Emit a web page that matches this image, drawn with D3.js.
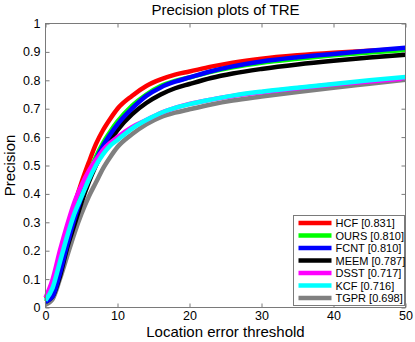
<!DOCTYPE html>
<html>
<head>
<meta charset="utf-8">
<script src="https://cdn.jsdelivr.net/npm/d3@7"></script>
<style>
  body { margin: 0; background: #fff; }
  text { font-family: "Liberation Sans", Arial, sans-serif; fill: #000; }
</style>
</head>
<body>
<svg id="chart" width="415" height="342"></svg>
<script>
var thresholds = [0,1,2,3,4,5,6,7,8,9,10,12,14,16,18,20,23,26,30,35,40,45,50];

var hcf  = [0.03,0.07,0.17,0.27,0.36,0.44,0.51,0.575,0.625,0.665,0.70,0.745,0.78,0.803,0.82,0.831,0.848,0.862,0.876,0.888,0.897,0.904,0.91];
var ours = [0.02,0.05,0.13,0.23,0.32,0.40,0.47,0.53,0.58,0.62,0.655,0.71,0.75,0.78,0.798,0.810,0.830,0.846,0.862,0.876,0.888,0.898,0.907];
var fcnt = [0.02,0.04,0.12,0.22,0.31,0.39,0.46,0.52,0.57,0.61,0.645,0.70,0.745,0.775,0.795,0.810,0.832,0.849,0.866,0.881,0.893,0.904,0.915];
var meem = [0.02,0.04,0.11,0.21,0.29,0.37,0.44,0.50,0.55,0.59,0.625,0.68,0.72,0.75,0.772,0.787,0.808,0.824,0.84,0.856,0.869,0.88,0.89];
var dsst = [0.035,0.10,0.20,0.29,0.37,0.43,0.48,0.52,0.555,0.58,0.60,0.635,0.66,0.685,0.703,0.717,0.732,0.745,0.758,0.772,0.785,0.796,0.806];
var kcf  = [0.025,0.07,0.16,0.25,0.33,0.39,0.45,0.50,0.54,0.57,0.59,0.63,0.66,0.685,0.703,0.716,0.732,0.746,0.76,0.774,0.787,0.80,0.812];
var tgpr = [0.01,0.03,0.10,0.18,0.26,0.33,0.39,0.44,0.49,0.53,0.565,0.61,0.645,0.67,0.686,0.698,0.715,0.729,0.743,0.759,0.774,0.788,0.802];

var trackers = ["HCF","OURS","FCNT","MEEM","DSST","KCF","TGPR"];
var scores   = ["0.831","0.810","0.810","0.787","0.717","0.716","0.698"];
var colors   = ["#ff0000","#00ff00","#0000ff","#000000","#ff00ff","#00ffff","#808080"];
var values   = [hcf, ours, fcnt, meem, dsst, kcf, tgpr];
// order in which lines are painted (first = bottom)
var drawOrder = [6,3,0,1,2,4,5];

var xTicks = [0,10,20,30,40,50];
var yTicks = [0,0.1,0.2,0.3,0.4,0.5,0.6,0.7,0.8,0.9,1];

var svg = d3.select("#chart");
var mLeft = 45.5, mRight = 405.5, mTop = 23.5, mBottom = 307.5;
var axisColor = "#7a7a7a";

var x = d3.scaleLinear().domain([0,50]).range([mLeft,mRight]);
var y = d3.scaleLinear().domain([0,1]).range([mBottom,mTop]);

// plot lines
var line = d3.line()
  .x(function(d, i) { return x(thresholds[i]); })
  .y(function(d) { return y(d); })
  .curve(d3.curveMonotoneX);

var plot = svg.append("g");
drawOrder.forEach(function(k) {
  plot.append("path")
    .attr("d", line(values[k]))
    .attr("fill", "none")
    .attr("stroke", colors[k])
    .attr("stroke-width", 4.5)
    .attr("stroke-linejoin", "round");
});

// axes, ticks point inward, box on
var xAxis = svg.append("g").attr("transform", "translate(0," + mBottom + ")")
  .call(d3.axisBottom(x).tickValues(xTicks).tickSize(-4).tickPadding(4).tickFormat(d3.format("d")));
var yAxis = svg.append("g").attr("transform", "translate(" + mLeft + ",0)")
  .call(d3.axisLeft(y).tickValues(yTicks).tickSize(-4).tickPadding(5)
    .tickFormat(function(d) { return d === 0 || d === 1 ? d3.format("d")(d) : d3.format(".1f")(d); }));
var xTop = svg.append("g").attr("transform", "translate(0," + mTop + ")")
  .call(d3.axisTop(x).tickValues(xTicks).tickSize(-4).tickFormat(""));
var yRight = svg.append("g").attr("transform", "translate(" + mRight + ",0)")
  .call(d3.axisRight(y).tickValues(yTicks).tickSize(-4).tickFormat(""));

[xAxis, yAxis, xTop, yRight].forEach(function(a) {
  a.selectAll(".tick line").attr("stroke", axisColor);
  a.selectAll("text").style("font-size", "12.5px").attr("fill", "#000");
});
svg.selectAll(".domain").remove();
svg.append("rect")
  .attr("x", mLeft).attr("y", mTop)
  .attr("width", mRight - mLeft).attr("height", mBottom - mTop)
  .attr("fill", "none").attr("stroke", axisColor);

// titles
svg.append("text")
  .attr("x", (mLeft + mRight) / 2).attr("y", 15)
  .attr("text-anchor", "middle").style("font-size", "15px")
  .text("Precision plots of TRE");
svg.append("text")
  .attr("x", (mLeft + mRight) / 2).attr("y", 337)
  .attr("text-anchor", "middle").style("font-size", "15px")
  .text("Location error threshold");
svg.append("text")
  .attr("transform", "translate(15," + ((mTop + mBottom) / 2) + ") rotate(-90)")
  .attr("text-anchor", "middle").style("font-size", "15px")
  .text("Precision");

// legend
var legX = 293.5, legW = 111, rowH = 12.5, legTop = 215.5;
var legend = svg.append("g");
legend.append("rect")
  .attr("x", legX).attr("y", legTop)
  .attr("width", legW).attr("height", rowH * trackers.length + 2.5)
  .attr("fill", "#fff").attr("stroke", axisColor);

var item = legend.selectAll("g.item")
  .data(trackers)
  .enter().append("g")
  .attr("class", "item")
  .attr("transform", function(d, i) { return "translate(" + legX + "," + (legTop + 7.5 + i * rowH) + ")"; });

item.append("line")
  .attr("x1", 5).attr("x2", 38)
  .attr("stroke", function(d, i) { return colors[i]; })
  .attr("stroke-width", 4.5);
item.append("text")
  .attr("x", 42).attr("y", 4)
  .style("font-size", "11px")
  .text(function(d, i) { return d + " [" + scores[i] + "]"; });
</script>
</body>
</html>
